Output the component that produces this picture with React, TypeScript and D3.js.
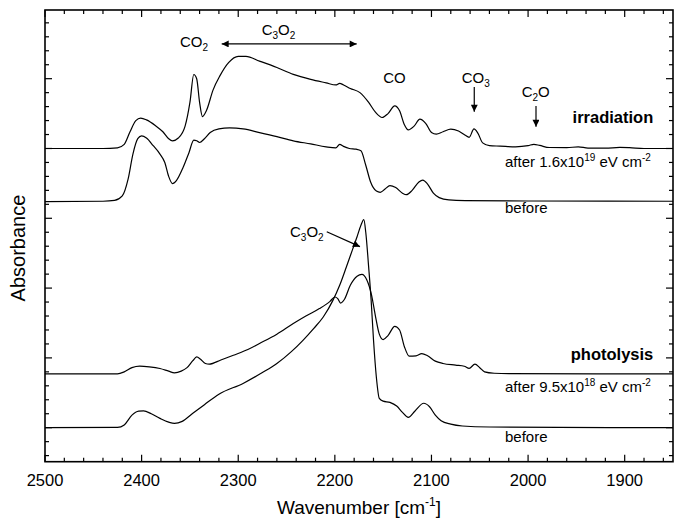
import React from "react";
import * as d3 from "d3";

// [wavenumber (cm-1), absorbance (offset, arb. units)]
const irradiationAfter: [number, number][] = [
  [2500, 2.0], [2440, 2.0], [2425, 2.005], [2418, 2.03], [2412, 2.12], [2406, 2.2], [2401, 2.217],
  [2395, 2.205], [2385, 2.16], [2378, 2.12], [2372, 2.07], [2368, 2.055], [2362, 2.075], [2355, 2.16],
  [2350, 2.33], [2346, 2.53], [2343, 2.5], [2340, 2.33], [2337, 2.228], [2333, 2.27], [2326, 2.42],
  [2319, 2.52], [2310, 2.615], [2300, 2.66], [2292, 2.66], [2278, 2.626], [2260, 2.58], [2243, 2.531],
  [2225, 2.495], [2209, 2.47], [2199, 2.455], [2195, 2.466], [2191, 2.455], [2184, 2.43], [2174, 2.4],
  [2165, 2.33], [2158, 2.26], [2151, 2.222], [2145, 2.25], [2138, 2.305], [2133, 2.27], [2128, 2.17],
  [2124, 2.133], [2118, 2.16], [2112, 2.21], [2106, 2.18], [2100, 2.115], [2095, 2.103], [2088, 2.12],
  [2080, 2.138], [2072, 2.125], [2065, 2.095], [2061, 2.08], [2056, 2.14], [2052, 2.11], [2047, 2.04],
  [2040, 2.02], [2029, 2.017], [2013, 2.012], [2000, 2.02], [1994, 2.03], [1988, 2.022], [1978, 2.007],
  [1960, 2.006], [1948, 2.012], [1938, 2.003], [1920, 2.002], [1905, 2.008], [1895, 2.006], [1880, 2.0],
  [1850, 2.0],
];

const irradiationBefore: [number, number][] = [
  [2500, 1.62], [2440, 1.622], [2428, 1.628], [2420, 1.66], [2414, 1.78], [2409, 1.96], [2404, 2.07],
  [2400, 2.09], [2395, 2.075], [2388, 2.02], [2381, 1.96], [2376, 1.9], [2372, 1.8], [2368, 1.748],
  [2364, 1.77], [2357, 1.865], [2351, 1.97], [2346, 2.06], [2343, 2.055], [2340, 2.043], [2335, 2.07],
  [2329, 2.114], [2320, 2.14], [2309, 2.147], [2295, 2.14], [2278, 2.114], [2260, 2.085], [2243, 2.055],
  [2225, 2.033], [2209, 2.012], [2199, 2.005], [2195, 2.03], [2191, 2.015], [2185, 2.0], [2178, 1.995],
  [2173, 1.984], [2168, 1.88], [2163, 1.76], [2157, 1.695], [2153, 1.686], [2148, 1.71], [2143, 1.734],
  [2137, 1.72], [2130, 1.68], [2126, 1.669], [2120, 1.7], [2113, 1.76], [2109, 1.774], [2104, 1.745],
  [2098, 1.68], [2092, 1.648], [2082, 1.632], [2065, 1.627], [2000, 1.624], [1850, 1.622],
];

const photolysisAfter: [number, number][] = [
  [2500, 0.385], [2425, 0.386], [2418, 0.4], [2410, 0.43], [2402, 0.441], [2392, 0.436], [2381, 0.424],
  [2372, 0.405], [2366, 0.393], [2359, 0.405], [2353, 0.43], [2347, 0.48], [2343, 0.507], [2339, 0.49],
  [2334, 0.46], [2330, 0.455], [2318, 0.485], [2305, 0.519], [2290, 0.56], [2278, 0.603], [2260, 0.67],
  [2243, 0.746], [2230, 0.8], [2216, 0.853], [2205, 0.905], [2200, 0.936], [2197, 0.925], [2194, 0.893],
  [2190, 0.92], [2184, 1.02], [2177, 1.085], [2172, 1.098], [2167, 1.06], [2162, 0.95], [2158, 0.8],
  [2154, 0.67], [2150, 0.631], [2145, 0.66], [2138, 0.726], [2133, 0.7], [2128, 0.58], [2123, 0.512],
  [2116, 0.515], [2110, 0.531], [2104, 0.515], [2096, 0.477], [2088, 0.46], [2075, 0.448], [2066, 0.44],
  [2061, 0.425], [2055, 0.455], [2050, 0.43], [2045, 0.4], [2035, 0.39], [2020, 0.387], [1850, 0.385],
];

const photolysisBefore: [number, number][] = [
  [2500, 0], [2425, 0.002], [2418, 0.02], [2410, 0.09], [2403, 0.118], [2398, 0.12], [2390, 0.1],
  [2381, 0.067], [2372, 0.04], [2366, 0.031], [2358, 0.045], [2347, 0.103], [2335, 0.165], [2320, 0.24],
  [2295, 0.317], [2275, 0.395], [2260, 0.46], [2245, 0.545], [2233, 0.626], [2222, 0.71], [2212, 0.793],
  [2202, 0.912], [2195, 1.02], [2188, 1.153], [2182, 1.27], [2177, 1.368], [2173, 1.45], [2170, 1.49],
  [2168, 1.4], [2165, 1.15], [2162.5, 0.92], [2160, 0.63], [2157, 0.36], [2154, 0.21], [2150, 0.19],
  [2143, 0.181], [2136, 0.155], [2130, 0.11], [2124, 0.074], [2117, 0.12], [2108, 0.175], [2102, 0.15],
  [2096, 0.09], [2090, 0.05], [2080, 0.025], [2068, 0.012], [2040, 0.005], [1850, 0],
];

const series = [irradiationAfter, irradiationBefore, photolysisAfter, photolysisBefore];

const xMajorTicks = [2500, 2400, 2300, 2200, 2100, 2000, 1900];

const W = 674;
const H = 519;
const left = 45, right = 673, top = 10, bottom = 461.7;

const x = d3.scaleLinear().domain([2500, 1850]).range([left, right]);
const y = d3.scaleLinear().domain([-0.2436, 2.992]).range([bottom, top]);

const FONT = "'Liberation Sans', Arial, Helvetica, sans-serif";

export default function App() {
  const line = d3
    .line<[number, number]>()
    .x((d) => x(d[0]))
    .y((d) => y(d[1]))
    .curve(d3.curveMonotoneX);

  const xMinor = d3.range(1860, 2500, 20).filter((v) => v % 100 !== 0);
  const yMinor = d3.range(-2, 30).map((i) => i / 10).filter((v) => Math.round(v * 10) % 5 !== 0);
  const yMajor = [0, 0.5, 1, 1.5, 2, 2.5];

  const MAJ = 7, MIN = 4;
  const sub = (t: string) => (
    <tspan dy={4} fontSize={10}>{t}</tspan>
  );

  return (
    <svg width={W} height={H} style={{ position: "absolute", left: 0, top: 0 }} fontFamily={FONT}>
      <defs>
        <marker id="ah" viewBox="0 0 10 10" refX="10" refY="5" markerWidth="9" markerHeight="7"
          markerUnits="userSpaceOnUse" orient="auto-start-reverse">
          <path d="M0,0 L10,5 L0,10 z" fill="#000" />
        </marker>
      </defs>
      <rect width={W} height={H} fill="#fff" />

      {/* curves */}
      {series.map((s, i) => (
        <path key={i} d={line(s) || ""} fill="none" stroke="#000" strokeWidth={1.2} />
      ))}

      {/* ticks */}
      <g stroke="#000" strokeWidth={1.2}>
        {xMajorTicks.map((v) => (
          <g key={"xm" + v}>
            <line x1={x(v)} x2={x(v)} y1={bottom} y2={bottom - MAJ} />
            <line x1={x(v)} x2={x(v)} y1={top} y2={top + MAJ} />
          </g>
        ))}
        {xMinor.map((v) => (
          <g key={"xn" + v}>
            <line x1={x(v)} x2={x(v)} y1={bottom} y2={bottom - MIN} />
            <line x1={x(v)} x2={x(v)} y1={top} y2={top + MIN} />
          </g>
        ))}
        {yMajor.map((v) => (
          <g key={"ym" + v}>
            <line x1={left} x2={left + MAJ} y1={y(v)} y2={y(v)} />
            <line x1={right} x2={right - MAJ} y1={y(v)} y2={y(v)} />
          </g>
        ))}
        {yMinor.map((v) => (
          <g key={"yn" + v}>
            <line x1={left} x2={left + MIN} y1={y(v)} y2={y(v)} />
            <line x1={right} x2={right - MIN} y1={y(v)} y2={y(v)} />
          </g>
        ))}
      </g>

      <rect x={left} y={top} width={right - left} height={bottom - top} fill="none" stroke="#000" strokeWidth={1.6} />

      {/* tick labels */}
      {xMajorTicks.map((v) => (
        <text key={"xl" + v} x={x(v)} y={485.7} textAnchor="middle" fontSize={16.5}>{v}</text>
      ))}

      <text x={(left + right) / 2} y={514} textAnchor="middle" fontSize={19}>
        Wavenumber [cm<tspan dy={-8} fontSize={12}>-1</tspan><tspan dy={8}>]</tspan>
      </text>
      <text transform={`translate(25,248) rotate(-90)`} textAnchor="middle" fontSize={20}>Absorbance</text>

      {/* annotations (data coordinates) */}
      <g fontSize={15}>
        <text x={x(2360.3)} y={y(2.729)}>CO{sub("2")}</text>
        <text x={x(2275.7)} y={y(2.813)}>C{sub("3")}<tspan dy={-4}>O</tspan>{sub("2")}</text>
        <line x1={x(2317.1)} x2={x(2177.4)} y1={y(2.749)} y2={y(2.749)} stroke="#000" strokeWidth={1.2}
          markerStart="url(#ah)" markerEnd="url(#ah)" />
        <text x={x(2149.9)} y={y(2.467)}>CO</text>
        <text x={x(2068.7)} y={y(2.467)}>CO{sub("3")}</text>
        <line x1={x(2055.7)} x2={x(2055.7)} y1={y(2.44)} y2={y(2.264)} stroke="#000" strokeWidth={1.2} markerEnd="url(#ah)" />
        <text x={x(2006.6)} y={y(2.371)}>C{sub("2")}<tspan dy={-4}>O</tspan></text>
        <line x1={x(1991.8)} x2={x(1991.8)} y1={y(2.304)} y2={y(2.156)} stroke="#000" strokeWidth={1.2} markerEnd="url(#ah)" />

        <text x={x(1870.4)} y={y(2.18)} textAnchor="end" fontWeight="bold" fontSize={16.5}>irradiation</text>
        <text x={x(2023.9)} y={y(1.87)}>after 1.6x10<tspan dy={-6} fontSize={10}>19</tspan><tspan dy={6}> eV cm</tspan><tspan dy={-6} fontSize={10}>-2</tspan></text>
        <text x={x(2023.9)} y={y(1.536)}>before</text>

        <text x={x(2246.4)} y={y(1.368)}>C{sub("3")}<tspan dy={-4}>O</tspan>{sub("2")}</text>
        <line x1={x(2208.4)} x2={x(2174)} y1={y(1.404)} y2={y(1.297)} stroke="#000" strokeWidth={1.2} markerEnd="url(#ah)" />

        <text x={x(1870.4)} y={y(0.485)} textAnchor="end" fontWeight="bold" fontSize={16.5}>photolysis</text>
        <text x={x(2023.9)} y={y(0.258)}>after 9.5x10<tspan dy={-6} fontSize={10}>18</tspan><tspan dy={6}> eV cm</tspan><tspan dy={-6} fontSize={10}>-2</tspan></text>
        <text x={x(2023.9)} y={y(-0.105)}>before</text>
      </g>
    </svg>
  );
}
